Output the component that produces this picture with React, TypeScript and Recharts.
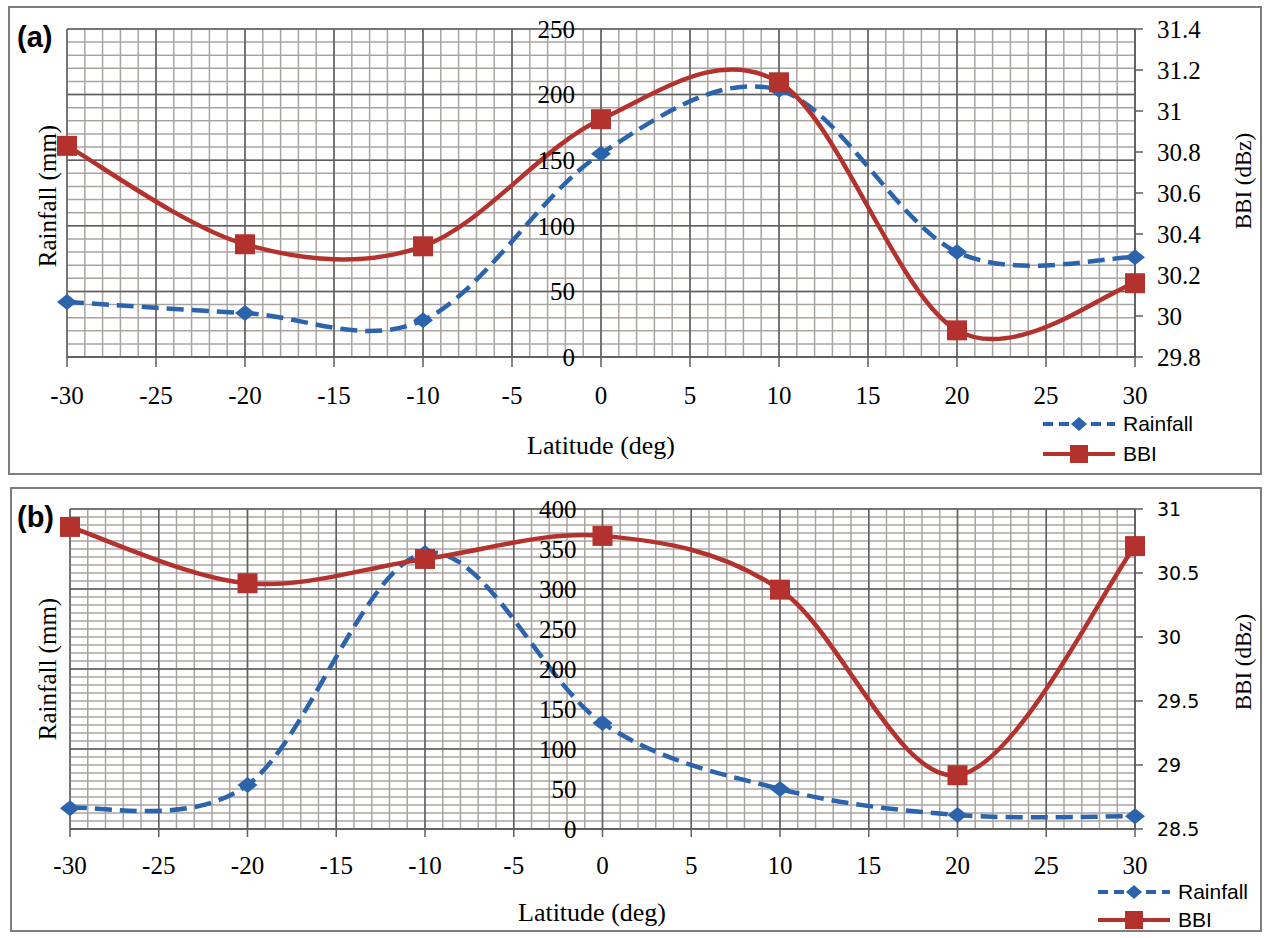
import React from "react";
import { LineChart, Line, XAxis, YAxis, CartesianGrid, Legend } from "recharts";

// latitude positions of the samples
const latitudes = [-30, -20, -10, 0, 10, 20, 30];

// panel (a)
const rainfallA = [42, 33.5, 28, 155, 203.5, 80, 76];
const bbiA = [30.83, 30.35, 30.34, 30.96, 31.14, 29.93, 30.16];

// panel (b)
const rainfallB = [26, 55, 345, 132.5, 50, 17.5, 16];
const bbiB = [30.86, 30.42, 30.61, 30.79, 30.37, 28.92, 30.71];

const latTicks = [-30, -25, -20, -15, -10, -5, 0, 5, 10, 15, 20, 25, 30];
const rainTicksA = [0, 50, 100, 150, 200, 250];
const bbiTicksA = [29.8, 30, 30.2, 30.4, 30.6, 30.8, 31, 31.2, 31.4];
const rainTicksB = [0, 50, 100, 150, 200, 250, 300, 350, 400];
const bbiTicksB = [28.5, 29, 29.5, 30, 30.5, 31];

const BLUE = "#2b63ac";
const RED = "#b3322d";
const SERIF = "'Liberation Serif', 'DejaVu Serif', serif";
const SANS = "'Liberation Sans', Arial, sans-serif";
const MINOR = "#aaa4a0";
const MAJOR = "#5e5e5e";

const range = (a: number, b: number, step: number) => {
  const out: number[] = [];
  for (let v = a; v <= b + 1e-9; v += step) out.push(Math.round(v * 1000) / 1000);
  return out;
};

// grid line positions through the axis scales
const hLines = (values: number[], domain: [number, number]) => ({ yAxis, offset }: any) => {
  if (yAxis && typeof yAxis.scale === "function") return values.map((v) => yAxis.scale(v));
  return values.map((v) => offset.top + offset.height * (1 - (v - domain[0]) / (domain[1] - domain[0])));
};
const vLines = (values: number[]) => ({ xAxis, offset }: any) => {
  if (xAxis && typeof xAxis.scale === "function") return values.map((v) => xAxis.scale(v));
  return values.map((v) => offset.left + (offset.width * (v + 30)) / 60);
};

// Excel-like smoothing (Catmull-Rom through the points)
const excelSmooth = (context: any) => {
  let pts: number[][] = [];
  return {
    areaStart() {},
    areaEnd() {},
    lineStart() {
      pts = [];
    },
    point(x: number, y: number) {
      pts.push([+x, +y]);
    },
    lineEnd() {
      const n = pts.length;
      if (!n) return;
      context.moveTo(pts[0][0], pts[0][1]);
      for (let i = 0; i < n - 1; i++) {
        const p0 = pts[Math.max(i - 1, 0)];
        const p1 = pts[i];
        const p2 = pts[i + 1];
        const p3 = pts[Math.min(i + 2, n - 1)];
        context.bezierCurveTo(
          p1[0] + (p2[0] - p0[0]) / 6,
          p1[1] + (p2[1] - p0[1]) / 6,
          p2[0] - (p3[0] - p1[0]) / 6,
          p2[1] - (p3[1] - p1[1]) / 6,
          p2[0],
          p2[1]
        );
      }
    },
  };
};

const Diamond = (props: any) => {
  const { cx, cy, index } = props;
  return (
    <path
      key={`dm-${index}`}
      d={`M${cx},${cy - 8}L${cx + 10},${cy}L${cx},${cy + 8}L${cx - 10},${cy}Z`}
      fill={BLUE}
    />
  );
};

const Square = (props: any) => {
  const { cx, cy, index } = props;
  return <rect key={`sq-${index}`} x={cx - 10} y={cy - 10} width={20} height={20} fill={RED} />;
};

const fmt = (v: number) => String(Number(v.toFixed(2)));

type PanelProps = {
  tag: string;
  top: number;
  height: number;
  box: { x: number; y: number; w: number; h: number };
  plotLeft: number;
  bottom: number;
  rain: number[];
  bbi: number[];
  rainDomain: [number, number];
  rainTicks: number[];
  rainMajor: number;
  bbiDomain: [number, number];
  bbiTicks: number[];
  bbiFont: string;
  bbiSize: number;
  tickSize: number;
  rainTitleY: number;
  bbiTitleY: number;
  latX: number;
  latY: number;
  legendX: number;
  legendY: number;
  legendRow: number;
};

const PLOT_RIGHT = 1135;

function Panel(p: PanelProps) {
  const data = latitudes.map((lat, i) => ({ lat, rainfall: p.rain[i], bbi: p.bbi[i] }));
  const zeroX = p.plotLeft + (PLOT_RIGHT - p.plotLeft) / 2;

  const LeftTick = ({ y, payload }: any) => (
    <text x={zeroX - 26} y={y} dy="0.35em" textAnchor="end" fontFamily={SERIF} fontSize={25} fill="#000">
      {payload.value}
    </text>
  );

  const LegendBox = () => (
    <div style={{ fontFamily: SANS, fontSize: 21, color: "#000" }}>
      {[
        { name: "Rainfall", color: BLUE, dash: "10 6", diamond: true },
        { name: "BBI", color: RED, dash: undefined, diamond: false },
      ].map((e) => (
        <div key={e.name} style={{ display: "flex", alignItems: "center", height: p.legendRow }}>
          <svg width={72} height={24}>
            <line x1={0} y1={12} x2={72} y2={12} stroke={e.color} strokeWidth={4} strokeDasharray={e.dash} />
            {e.diamond ? (
              <path d="M36,5L44,12L36,19L28,12Z" fill={BLUE} />
            ) : (
              <rect x={27} y={3} width={18} height={18} fill={RED} />
            )}
          </svg>
          <span style={{ marginLeft: 8 }}>{e.name}</span>
        </div>
      ))}
    </div>
  );

  return (
    <div style={{ position: "absolute", left: 0, top: p.top, width: 1269, height: p.height }}>
      <div
        style={{
          position: "absolute",
          left: p.box.x,
          top: p.box.y,
          width: p.box.w,
          height: p.box.h,
          border: "2px solid #7d7d7d",
          boxSizing: "border-box",
        }}
      />
      <div style={{ position: "absolute", left: 0, top: 0 }}>
        <LineChart
          width={1269}
          height={p.height}
          data={data}
          margin={{ top: 29, left: p.plotLeft - 10, right: 1269 - PLOT_RIGHT - 60, bottom: p.bottom - 40 }}
        >
          <CartesianGrid
            yAxisId="left"
            stroke={MINOR}
            strokeWidth={1.5}
            horizontalCoordinatesGenerator={hLines(range(p.rainDomain[0], p.rainDomain[1], 10), p.rainDomain)}
            verticalCoordinatesGenerator={vLines(range(-30, 30, 1))}
          />
          <CartesianGrid
            yAxisId="left"
            stroke={MAJOR}
            strokeWidth={1.5}
            horizontalCoordinatesGenerator={hLines(range(p.rainDomain[0], p.rainDomain[1], p.rainMajor), p.rainDomain)}
            verticalCoordinatesGenerator={vLines(range(-30, 30, 5))}
          />
          <XAxis
            dataKey="lat"
            type="number"
            domain={[-30, 30]}
            ticks={latTicks}
            height={40}
            stroke={MAJOR}
            strokeWidth={1.5}
            tickSize={p.tickSize}
            tickMargin={19}
            tick={{ fontFamily: SERIF, fontSize: 25, fill: "#000" }}
          />
          <YAxis
            yAxisId="left"
            width={10}
            domain={p.rainDomain}
            ticks={p.rainTicks}
            axisLine={false}
            tickLine={false}
            tick={<LeftTick />}
          />
          <YAxis
            yAxisId="right"
            orientation="right"
            width={60}
            domain={p.bbiDomain}
            ticks={p.bbiTicks}
            tickFormatter={fmt}
            stroke={MAJOR}
            strokeWidth={1.5}
            tickSize={8}
            tickMargin={14}
            tick={{ fontFamily: p.bbiFont, fontSize: p.bbiSize, fill: "#000" }}
          />
          <Legend
            layout="vertical"
            align="center"
            verticalAlign="middle"
            content={<LegendBox />}
            wrapperStyle={{ left: p.legendX, top: p.legendY - p.legendRow / 2, width: "auto", bottom: "auto" }}
          />
          <Line
            yAxisId="left"
            dataKey="rainfall"
            name="Rainfall"
            type={excelSmooth as any}
            stroke={BLUE}
            strokeWidth={4.5}
            strokeDasharray="17 8"
            dot={Diamond}
            activeDot={false}
            isAnimationActive={false}
          />
          <Line
            yAxisId="right"
            dataKey="bbi"
            name="BBI"
            type={excelSmooth as any}
            stroke={RED}
            strokeWidth={4.5}
            dot={Square}
            activeDot={false}
            isAnimationActive={false}
          />
        </LineChart>
      </div>
      <svg
        width={1269}
        height={p.height}
        style={{ position: "absolute", left: 0, top: 0, pointerEvents: "none" }}
      >
        <text x={17} y={37} dominantBaseline="central" fontFamily={SANS} fontWeight="bold" fontSize={29}>
          {p.tag}
        </text>
        <text
          x={47}
          y={p.rainTitleY}
          transform={`rotate(-90 47 ${p.rainTitleY})`}
          textAnchor="middle"
          dominantBaseline="central"
          fontFamily={SERIF}
          fontSize={25}
        >
          Rainfall (mm)
        </text>
        <text
          x={1243}
          y={p.bbiTitleY}
          transform={`rotate(-90 1243 ${p.bbiTitleY})`}
          textAnchor="middle"
          dominantBaseline="central"
          fontFamily={SERIF}
          fontSize={23}
        >
          BBI (dBz)
        </text>
        <text x={p.latX} y={p.latY} textAnchor="middle" dominantBaseline="central" fontFamily={SERIF} fontSize={26}>
          Latitude (deg)
        </text>
      </svg>
    </div>
  );
}

export default function App() {
  return (
    <div style={{ position: "absolute", left: 0, top: 0, width: 1269, height: 938, background: "#fff" }}>
      <Panel
        tag="(a)"
        top={0}
        height={480}
        box={{ x: 8, y: 6, w: 1254, h: 469 }}
        plotLeft={67}
        bottom={123}
        rain={rainfallA}
        bbi={bbiA}
        rainDomain={[0, 250]}
        rainTicks={rainTicksA}
        rainMajor={50}
        bbiDomain={[29.8, 31.4]}
        bbiTicks={bbiTicksA}
        bbiFont={SERIF}
        bbiSize={25}
        tickSize={10}
        rainTitleY={196}
        bbiTitleY={181}
        latX={601}
        latY={445}
        legendX={1043}
        legendY={424}
        legendRow={30}
      />
      <Panel
        tag="(b)"
        top={480}
        height={458}
        box={{ x: 10, y: 7, w: 1252, h: 445 }}
        plotLeft={70}
        bottom={109}
        rain={rainfallB}
        bbi={bbiB}
        rainDomain={[0, 400]}
        rainTicks={rainTicksB}
        rainMajor={100}
        bbiDomain={[28.5, 31]}
        bbiTicks={bbiTicksB}
        bbiFont="'DejaVu Sans', Verdana, sans-serif"
        bbiSize={19}
        tickSize={8}
        rainTitleY={189}
        bbiTitleY={182}
        latX={592}
        latY={432}
        legendX={1098}
        legendY={412}
        legendRow={28}
      />
    </div>
  );
}
